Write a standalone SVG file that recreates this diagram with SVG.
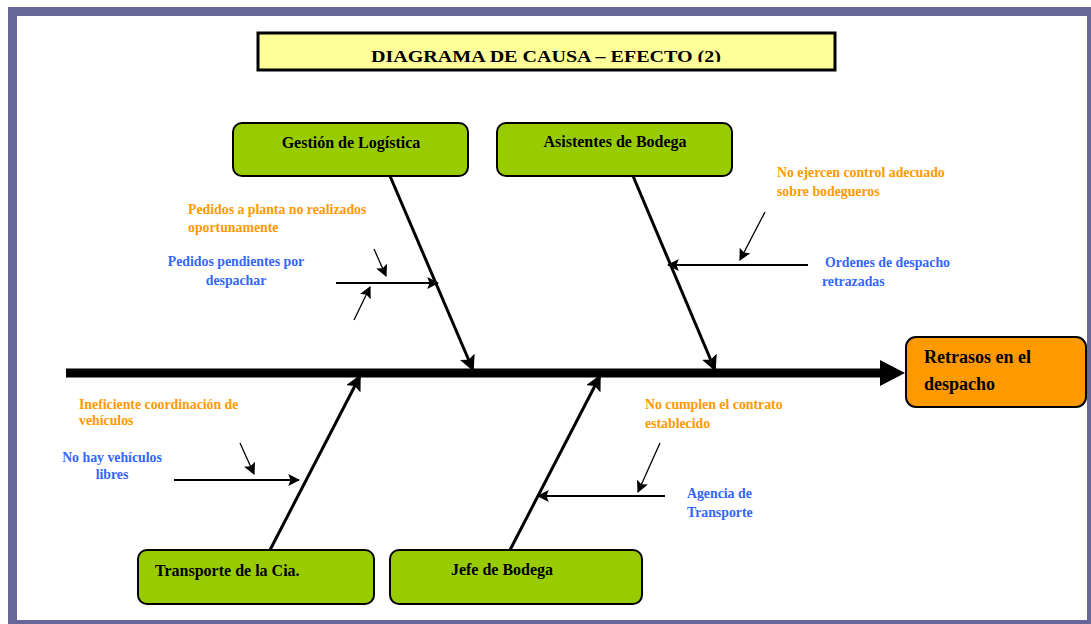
<svg xmlns="http://www.w3.org/2000/svg" width="1091" height="624" viewBox="0 0 1091 624">
<defs>
<style>
.box{fill:#99cc00;stroke:#000;stroke-width:2}
.eff{fill:#ff9900;stroke:#000;stroke-width:2}
.lbl{font-family:"Liberation Serif",serif;font-weight:bold;font-size:16px;fill:#000}
.or{font-family:"Liberation Serif",serif;font-weight:bold;font-size:13.8px;fill:#ff9900}
.bl{font-family:"Liberation Serif",serif;font-weight:bold;font-size:13.8px;fill:#3366ff}
.bone{stroke:#000;stroke-width:3;fill:none}
.sub{stroke:#000;stroke-width:2;fill:none}
.thin{stroke:#000;stroke-width:1.3;fill:none}
</style>
<marker id="ahb" viewBox="0 0 10 10" refX="9" refY="5" markerWidth="16" markerHeight="16" markerUnits="userSpaceOnUse" orient="auto"><path d="M0,0 L10,5 L0,10 L2,5 Z" fill="#000"/></marker>
<marker id="ahs" viewBox="0 0 10 10" refX="9" refY="5" markerWidth="12" markerHeight="12" markerUnits="userSpaceOnUse" orient="auto"><path d="M0,0 L10,5 L0,10 L2,5 Z" fill="#000"/></marker>
<clipPath id="tc"><rect x="259" y="34" width="575" height="28"/></clipPath>
</defs>
<rect x="0" y="0" width="1091" height="624" fill="#fff"/>
<g id="frame" fill="#676699">
<rect x="8" y="7" width="1083" height="9"/>
<rect x="8" y="7" width="9" height="617"/>
<rect x="1087" y="7" width="4" height="617"/>
<rect x="8" y="620" width="1083" height="4"/>
</g>
<g id="title">
<rect x="258" y="33" width="577" height="37" fill="#ffff99" stroke="#000" stroke-width="3"/>
<text x="546" y="62" text-anchor="middle" clip-path="url(#tc)" style="font-family:'Liberation Serif',serif;font-weight:bold;font-size:17px" textLength="350" lengthAdjust="spacingAndGlyphs">DIAGRAMA DE CAUSA – EFECTO (2)</text>
</g>
<g id="connectors">
<line x1="66" y1="373" x2="882" y2="373" stroke="#000" stroke-width="9"/>
<path d="M880,360 L905,373 L880,386 Z" fill="#000"/>
<line class="bone" x1="390" y1="176" x2="473" y2="370" marker-end="url(#ahb)"/>
<line class="bone" x1="633" y1="176" x2="715" y2="370" marker-end="url(#ahb)"/>
<line class="bone" x1="270" y1="550" x2="360" y2="376" marker-end="url(#ahb)"/>
<line class="bone" x1="510" y1="550" x2="600" y2="376" marker-end="url(#ahb)"/>
<line class="sub" x1="336" y1="283" x2="438" y2="283" marker-end="url(#ahs)"/>
<line class="thin" x1="374" y1="249" x2="386" y2="276" marker-end="url(#ahs)"/>
<line class="thin" x1="354" y1="320" x2="370" y2="287" marker-end="url(#ahs)"/>
<line class="sub" x1="808" y1="265" x2="668" y2="265" marker-end="url(#ahs)"/>
<line class="thin" x1="765" y1="212" x2="740" y2="260" marker-end="url(#ahs)"/>
<line class="sub" x1="174" y1="480" x2="299" y2="480" marker-end="url(#ahs)"/>
<line class="thin" x1="240" y1="443" x2="254" y2="474" marker-end="url(#ahs)"/>
<line class="sub" x1="665" y1="496" x2="538" y2="496" marker-end="url(#ahs)"/>
<line class="thin" x1="660" y1="443" x2="638" y2="492" marker-end="url(#ahs)"/>
</g>
<g id="n-gestion">
<rect class="box" x="233" y="123" width="235" height="53" rx="9"/>
<text class="lbl" x="351" y="148" text-anchor="middle">Gestión de Logística</text>
</g>
<g id="n-asistentes">
<rect class="box" x="497" y="123" width="235" height="53" rx="9"/>
<text class="lbl" x="615" y="147" text-anchor="middle">Asistentes de Bodega</text>
</g>
<g id="n-transporte">
<rect class="box" x="138" y="550" width="236" height="54" rx="9"/>
<text class="lbl" x="155" y="576">Transporte de la Cia.</text>
</g>
<g id="n-jefe">
<rect class="box" x="390" y="550" width="252" height="54" rx="9"/>
<text class="lbl" x="502" y="575" text-anchor="middle">Jefe de Bodega</text>
</g>
<g id="n-efecto">
<rect class="eff" x="906" y="337" width="180" height="70" rx="10"/>
<text class="lbl" x="924" y="363" style="font-size:18px">Retrasos en el</text>
<text class="lbl" x="924" y="390" style="font-size:18px">despacho</text>
</g>
<g id="causes">
<text class="or" x="188" y="214">Pedidos a planta no realizados</text>
<text class="or" x="188" y="232">oportunamente</text>
<text class="bl" x="236" y="266" text-anchor="middle">Pedidos pendientes por</text>
<text class="bl" x="236" y="285" text-anchor="middle">despachar</text>
<text class="or" x="777" y="177">No ejercen control adecuado</text>
<text class="or" x="777" y="196">sobre bodegueros</text>
<text class="bl" x="825" y="267">Ordenes de despacho</text>
<text class="bl" x="822" y="286">retrazadas</text>
<text class="or" x="79" y="409">Ineficiente coordinación de</text>
<text class="or" x="79" y="425">vehículos</text>
<text class="bl" x="112" y="462" text-anchor="middle">No hay vehículos</text>
<text class="bl" x="112" y="479" text-anchor="middle">libres</text>
<text class="or" x="645" y="409">No cumplen el contrato</text>
<text class="or" x="645" y="428">establecido</text>
<text class="bl" x="687" y="498">Agencia de</text>
<text class="bl" x="687" y="517">Transporte</text>
</g>
</svg>
